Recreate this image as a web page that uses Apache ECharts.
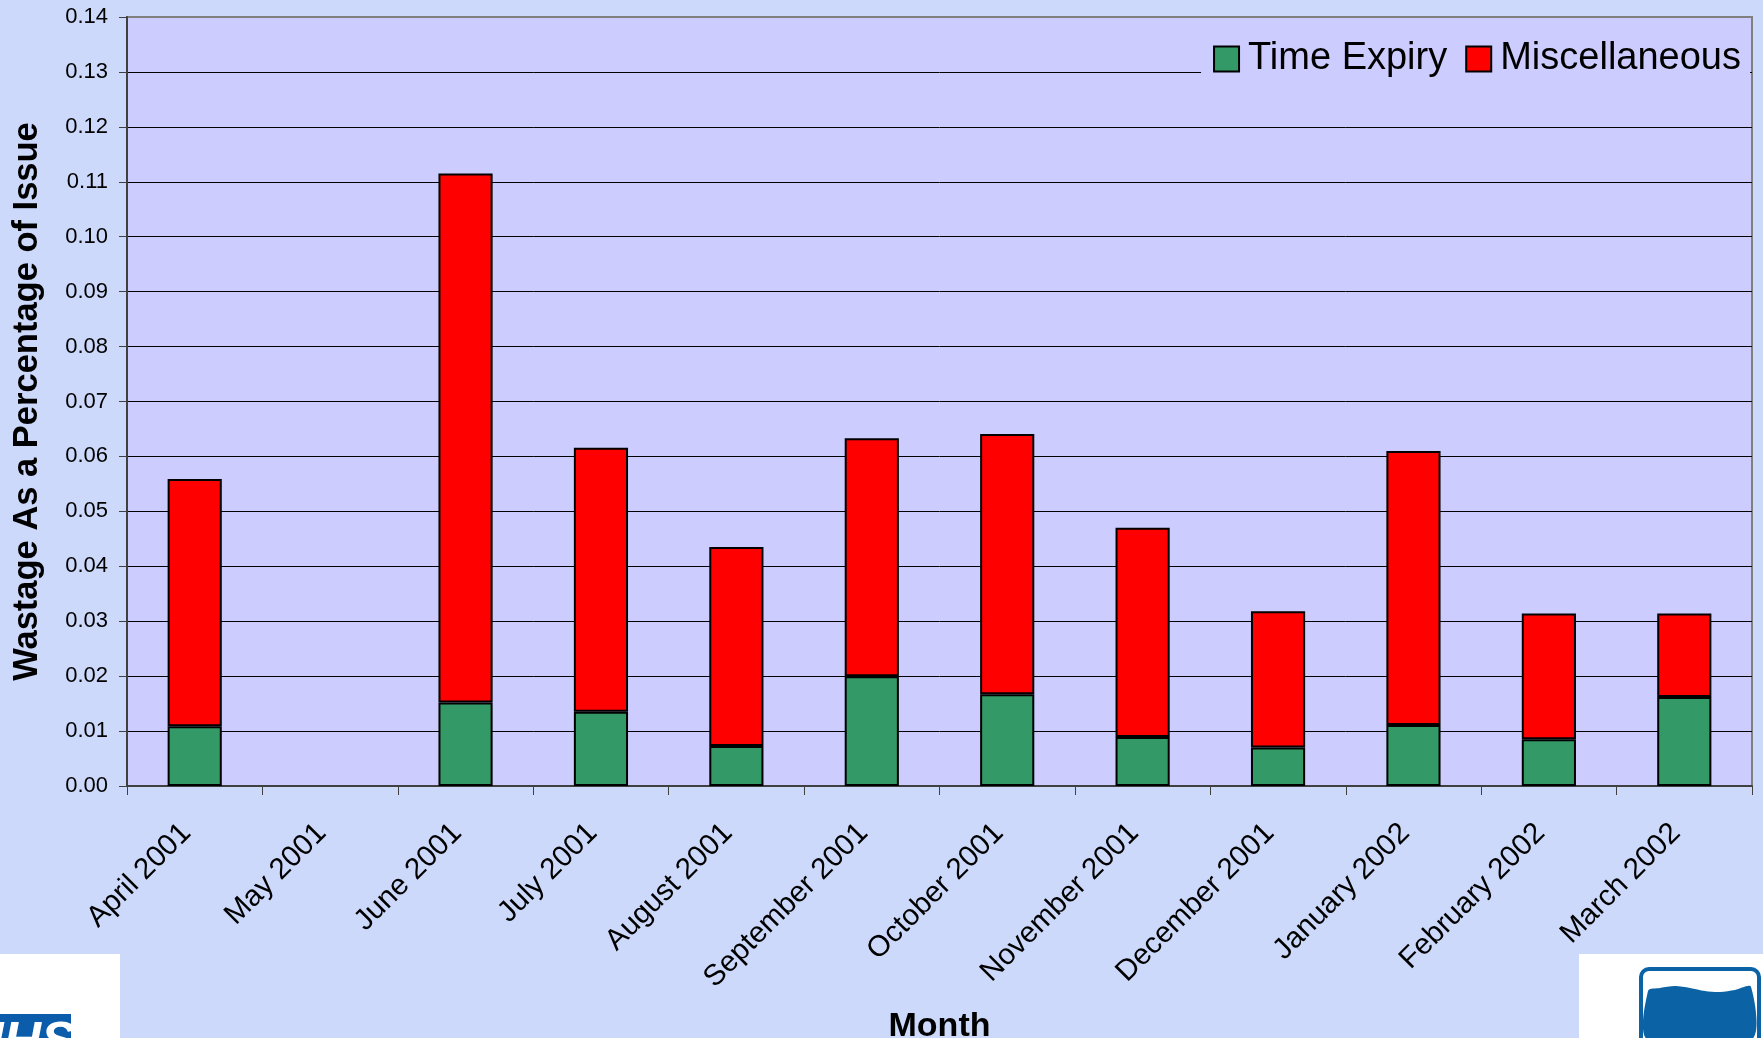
<!DOCTYPE html>
<html>
<head>
<meta charset="utf-8">
<script src="https://cdn.jsdelivr.net/npm/echarts@6/dist/echarts.min.js"></script>
<style>
  html, body { margin: 0; padding: 0; background: #CCD9FA; }
  #chart { width: 1763px; height: 1038px; }
</style>
</head>
<body>
<div id="chart"></div>
<script>
// Monthly wastage, split by cause (stacked)
const months = ['April 2001', 'May 2001', 'June 2001', 'July 2001', 'August 2001',
  'September 2001', 'October 2001', 'November 2001', 'December 2001',
  'January 2002', 'February 2002', 'March 2002'];
const timeExpiry = [0.0109, null, 0.0152, 0.0135, 0.0073, 0.0200, 0.0167, 0.0089, 0.0070, 0.0111, 0.0085, 0.0162];
const miscellaneous = [0.0450, null, 0.0963, 0.0481, 0.0362, 0.0433, 0.0474, 0.0381, 0.0248, 0.0499, 0.0229, 0.0152];
const yTicks = { min: 0, max: 0.14, step: 0.01 };

const FONT = '"Liberation Sans", Arial, sans-serif';
const chart = echarts.init(document.getElementById('chart'), null, { renderer: 'canvas' });

// wavy water surface for the glass logo
const waterPoints = [[1648, 1040], [1648, 991], [1660, 988], [1675, 986], [1690, 988], [1705, 991],
  [1720, 992], [1735, 990], [1751, 987], [1751, 1040]];

chart.setOption({
  backgroundColor: '#CCD9FA',
  animation: false,
  textStyle: { fontFamily: FONT, color: '#000' },
  grid: {
    left: 127, right: 11, top: 17, bottom: 252,
    outerBoundsMode: 'none', containLabel: false,
    show: true, backgroundColor: '#CCCCFF', borderColor: '#808080', borderWidth: 2
  },
  legend: {
    right: 13, top: 30,
    padding: [10, 9, 10, 12],
    backgroundColor: '#CCCCFF',
    itemWidth: 25, itemHeight: 25, itemGap: 18,
    icon: 'rect',
    itemStyle: { borderColor: '#000', borderWidth: 2 },
    textStyle: { fontSize: 38, fontFamily: FONT, color: '#000', padding: [0, 0, 0, 4] },
    data: ['Time Expiry', 'Miscellaneous']
  },
  xAxis: {
    type: 'category',
    data: months,
    name: 'Month',
    nameLocation: 'middle',
    nameGap: 224,
    nameTextStyle: { fontSize: 34, fontWeight: 'bold', fontFamily: FONT, color: '#000' },
    axisLine: { show: true, lineStyle: { color: '#404040', width: 2 } },
    axisTick: { show: true, alignWithLabel: false, length: 9, lineStyle: { color: '#404040', width: 1 } },
    axisLabel: { interval: 0, rotate: 45, margin: 34, padding: [0, 12, 0, 0],
      fontSize: 29.5, fontFamily: FONT, color: '#000' },
    splitLine: { show: false }
  },
  yAxis: {
    type: 'value',
    min: yTicks.min, max: yTicks.max, interval: yTicks.step,
    name: 'Wastage As a Percentage of Issue',
    nameLocation: 'middle',
    nameGap: 82,
    nameTextStyle: { fontSize: 34.5, fontWeight: 'bold', fontFamily: FONT, color: '#000' },
    axisLine: { show: true, lineStyle: { color: '#404040', width: 2 } },
    axisTick: { show: true, length: 8, lineStyle: { color: '#404040', width: 1 } },
    axisLabel: { margin: 19, fontSize: 22, fontFamily: FONT, color: '#000',
      formatter: v => v.toFixed(2) },
    splitLine: { show: true, showMaxLine: false, lineStyle: { color: '#000', width: 1 } }
  },
  series: [
    {
      name: 'Time Expiry', type: 'bar', stack: 'wastage', barWidth: '40%',
      itemStyle: { color: '#339966', borderColor: '#000', borderWidth: 2 },
      data: timeExpiry
    },
    {
      name: 'Miscellaneous', type: 'bar', stack: 'wastage', barWidth: '40%',
      itemStyle: { color: '#FF0000', borderColor: '#000', borderWidth: 2 },
      data: miscellaneous
    }
  ],
  graphic: [
    // NHS logo panel, bottom left
    { type: 'rect', z: 10, shape: { x: 0, y: 954, width: 120, height: 84 }, style: { fill: '#FFFFFF' } },
    { type: 'rect', z: 11, shape: { x: 0, y: 1014, width: 71, height: 24 }, style: { fill: '#0B5CAB' } },
    { type: 'text', z: 12, x: -34, y: 1018,
      style: { text: 'NHS', fill: '#FFFFFF', font: 'italic bold 52px ' + FONT } },
    // Blood service glass logo, bottom right
    { type: 'rect', z: 10, shape: { x: 1579, y: 954, width: 184, height: 84 }, style: { fill: '#FFFFFF' } },
    { type: 'rect', z: 11,
      shape: { x: 1641, y: 969, width: 118, height: 90, r: 8 },
      style: { fill: 'none', stroke: '#0B63A6', lineWidth: 4 } },
    { type: 'polygon', z: 11,
      shape: { points: waterPoints, smooth: 0.3 },
      style: { fill: '#0B63A6' } }
  ]
});
</script>
</body>
</html>
